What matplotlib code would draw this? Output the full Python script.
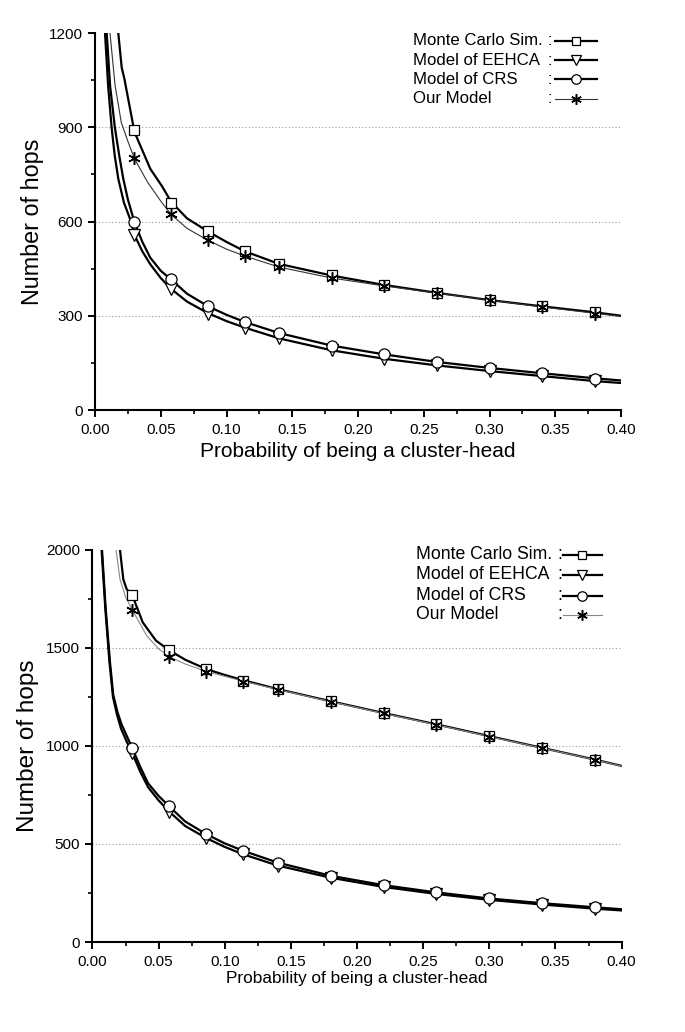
import matplotlib
matplotlib.use("Agg")
import matplotlib.pyplot as plt
from matplotlib.ticker import MultipleLocator, FormatStrFormatter

plt.rcParams['font.family'] = ['Liberation Sans', 'DejaVu Sans']

names = ["Monte Carlo Sim.", "Model of EEHCA", "Model of CRS", "Our Model"]

# marker positions (same for both panels)
p_mark = [0.03, 0.058, 0.086, 0.114, 0.14, 0.18, 0.22, 0.26, 0.30, 0.34, 0.38]

# ---- top panel ----
top_mc_p = [0.0177, 0.0203, 0.0223, 0.030, 0.042, 0.051, 0.058, 0.070, 0.086, 0.10, 0.114,
            0.14, 0.18, 0.22, 0.26, 0.30, 0.34, 0.38, 0.40]
top_mc_v = [1200, 1090, 1055, 885, 768, 712, 662, 610, 568, 535, 505,
            465, 428, 398, 373, 350, 330, 311, 300]
top_our_p = [0.0114, 0.0152, 0.020, 0.025, 0.030, 0.040, 0.050, 0.058, 0.070, 0.086, 0.10,
             0.114, 0.14, 0.18, 0.22, 0.26, 0.30, 0.34, 0.38, 0.40]
top_our_v = [1200, 1035, 915, 855, 800, 725, 665, 622, 578, 540, 512,
             490, 455, 420, 395, 372, 350, 328, 308, 298]
top_crs_p = [0.0089, 0.0115, 0.0152, 0.0185, 0.0215, 0.025, 0.030, 0.036, 0.042, 0.050, 0.058,
             0.070, 0.086, 0.10, 0.114, 0.14, 0.18, 0.22, 0.26, 0.30, 0.34, 0.38, 0.40]
top_crs_v = [1200, 1030, 896, 808, 736, 670, 598, 535, 485, 443, 415,
             370, 330, 303, 280, 245, 205, 177, 153, 134, 117, 101, 94]
top_eehca_p = [0.0076, 0.0100, 0.0127, 0.015, 0.0177, 0.022, 0.0274, 0.030, 0.036, 0.042, 0.050,
               0.058, 0.070, 0.086, 0.10, 0.114, 0.14, 0.18, 0.22, 0.26, 0.30, 0.34, 0.38, 0.40]
top_eehca_v = [1200, 1030, 896, 810, 736, 660, 600, 557, 505, 464, 420,
               385, 345, 308, 283, 262, 228, 190, 163, 142, 124, 108, 92, 86]

top_mc_mark = [890, 660, 570, 506, 466, 429, 398, 373, 351, 330, 311]
top_eehca_mark = [557, 384, 306, 262, 228, 190, 163, 142, 124, 108, 91]
top_crs_mark = [598, 416, 330, 280, 245, 205, 177, 153, 134, 117, 100]
top_our_mark = [802, 624, 542, 489, 455, 420, 395, 372, 350, 328, 307]

# ---- bottom panel ----
bot_mc_p = [0.0208, 0.0233, 0.0258, 0.030, 0.038, 0.048, 0.058, 0.070, 0.086, 0.10, 0.114,
            0.14, 0.18, 0.22, 0.26, 0.30, 0.34, 0.38, 0.40]
bot_mc_v = [2000, 1850, 1800, 1770, 1630, 1537, 1488, 1440, 1392, 1362, 1335,
            1290, 1228, 1168, 1110, 1050, 990, 930, 898]
bot_our_p = [0.0178, 0.0208, 0.025, 0.030, 0.041, 0.050, 0.058, 0.070, 0.086, 0.10, 0.114,
             0.14, 0.18, 0.22, 0.26, 0.30, 0.34, 0.38, 0.40]
bot_our_v = [2000, 1850, 1760, 1695, 1562, 1495, 1455, 1418, 1380, 1355, 1330,
             1288, 1226, 1166, 1108, 1048, 989, 929, 897]
bot_crs_p = [0.0072, 0.0100, 0.0132, 0.0157, 0.019, 0.022, 0.026, 0.030, 0.036, 0.042, 0.050,
             0.058, 0.070, 0.086, 0.10, 0.114, 0.14, 0.18, 0.22, 0.26, 0.30, 0.34, 0.38, 0.40]
bot_crs_v = [2000, 1700, 1430, 1260, 1170, 1110, 1050, 990, 895, 810, 745,
             692, 615, 550, 503, 465, 405, 338, 290, 253, 222, 198, 177, 167]
bot_eehca_p = [0.0069, 0.0097, 0.0128, 0.0155, 0.0185, 0.0215, 0.026, 0.030, 0.036, 0.042, 0.050,
               0.058, 0.070, 0.086, 0.10, 0.114, 0.14, 0.18, 0.22, 0.26, 0.30, 0.34, 0.38, 0.40]
bot_eehca_v = [2000, 1700, 1430, 1250, 1160, 1090, 1020, 965, 870, 790, 722,
               665, 592, 530, 485, 447, 390, 328, 281, 245, 215, 191, 170, 161]

bot_mc_mark = [1770, 1490, 1390, 1330, 1288, 1228, 1168, 1110, 1050, 990, 930]
bot_our_mark = [1695, 1455, 1378, 1328, 1286, 1226, 1166, 1108, 1048, 989, 929]
bot_crs_mark = [990, 692, 550, 465, 405, 338, 290, 253, 222, 198, 177]
bot_eehca_mark = [962, 664, 530, 447, 390, 328, 281, 245, 215, 191, 170]

thick = dict(color='black', lw=1.6)
mstyles = [dict(marker='s', ms=7), dict(marker='v', ms=8),
           dict(marker='o', ms=8), dict(marker=(6, 2, 0), ms=9, mew=1.1)]

fig = plt.figure(figsize=(6.85, 10.32), dpi=100)


def panel(rect, lines, marks, thin_color, ymax, ymaj, yticks_grid, xlab_size, ylab_size,
          leg_size, leg_x, leg_rows, ylabpad, xlabpad):
    ax = fig.add_axes(rect)
    for i, (p, v) in enumerate(lines):
        if i == 3:
            ax.plot(p, v, color=thin_color, lw=0.8, zorder=2)
        else:
            ax.plot(p, v, zorder=2, **thick)
    for i, v in enumerate(marks):
        st = mstyles[i]
        ax.plot(p_mark, v, ls='none', mfc='white', mec='black',
                mew=st.get('mew', 0.9), marker=st['marker'], ms=st['ms'], zorder=3)
    for g in yticks_grid:
        ax.axhline(g, color='#999999', ls=(0, (1, 2)), lw=0.8, zorder=1)
    ax.set_xlim(0, 0.4)
    ax.set_ylim(0, ymax)
    ax.xaxis.set_major_locator(MultipleLocator(0.05))
    ax.xaxis.set_minor_locator(MultipleLocator(0.025))
    ax.xaxis.set_major_formatter(FormatStrFormatter('%.2f'))
    ax.yaxis.set_major_locator(MultipleLocator(ymaj))
    ax.yaxis.set_minor_locator(MultipleLocator(ymaj / 2))
    for s in ['top', 'right']:
        ax.spines[s].set_visible(False)
    for s in ['left', 'bottom']:
        ax.spines[s].set_linewidth(1.5)
    ax.tick_params(which='major', direction='out', length=5, width=1.4, labelsize=11, pad=4)
    ax.tick_params(which='minor', direction='out', length=3, width=1.2)
    ax.set_xlabel("Probability of being a cluster-head", fontsize=xlab_size, labelpad=xlabpad)
    ax.set_ylabel("Number of hops", fontsize=ylab_size, labelpad=ylabpad)

    # hand drawn legend
    nx, cx, h0, h1 = leg_x
    for i, y in enumerate(leg_rows):
        ax.text(nx, y, names[i], transform=ax.transAxes, fontsize=leg_size, va='center', ha='left')
        ax.text(cx, y, ":", transform=ax.transAxes, fontsize=leg_size, va='center', ha='left')
        if i == 3:
            ax.plot([h0, h1], [y, y], transform=ax.transAxes, color=thin_color, lw=0.8, clip_on=False)
        else:
            ax.plot([h0, h1], [y, y], transform=ax.transAxes, clip_on=False, **thick)
        st = mstyles[i]
        ax.plot([(h0 + h1) / 2], [y], transform=ax.transAxes, clip_on=False, ls='none',
                mfc='white', mec='black', mew=st.get('mew', 0.9), marker=st['marker'],
                ms=st['ms'] * 0.85)
    return ax


panel([0.1387, 0.6027, 0.768, 0.3653],
      [(top_mc_p, top_mc_v), (top_eehca_p, top_eehca_v), (top_crs_p, top_crs_v), (top_our_p, top_our_v)],
      [top_mc_mark, top_eehca_mark, top_crs_mark, top_our_mark],
      '#333333', 1200, 300, [300, 600, 900], 15, 16.8, 12.1,
      (0.6046, 0.86, 0.8745, 0.954), [0.979, 0.928, 0.878, 0.825], 3, 4)

panel([0.135, 0.0872, 0.7725, 0.380],
      [(bot_mc_p, bot_mc_v), (bot_eehca_p, bot_eehca_v), (bot_crs_p, bot_crs_v), (bot_our_p, bot_our_v)],
      [bot_mc_mark, bot_eehca_mark, bot_crs_mark, bot_our_mark],
      '#888888', 2000, 500, [500, 1000, 1500], 12.4, 17.5, 12.7,
      (0.6115, 0.878, 0.89, 0.962), [0.987, 0.936, 0.883, 0.834], 5, 2)

fig.savefig("out.png", dpi=100)
